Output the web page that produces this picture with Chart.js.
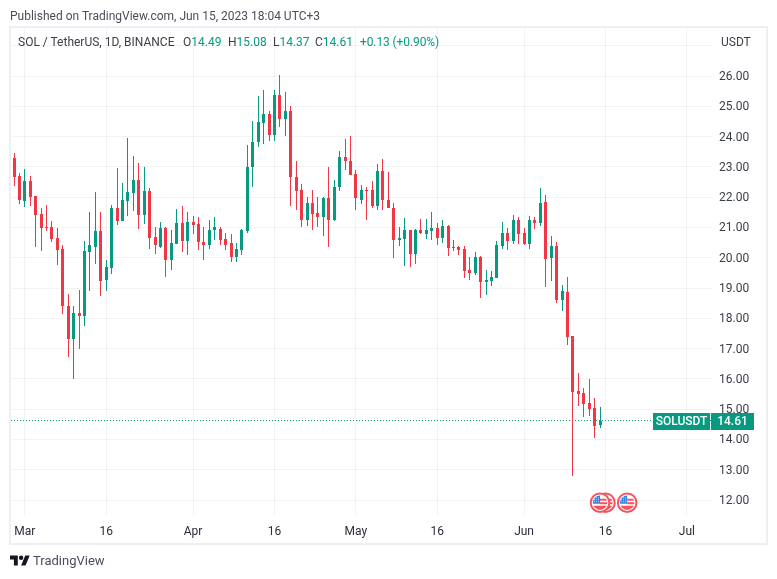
<!DOCTYPE html>
<html><head><meta charset="utf-8">
<script src="https://cdn.jsdelivr.net/npm/chart.js@4"></script>
<style>
html,body{margin:0;padding:0;background:#fff;width:777px;height:579px;overflow:hidden;font-family:Roboto,sans-serif}
#frame{position:absolute;left:9px;top:26px;width:755px;height:515px;border:2px solid #eeeff4}
canvas{position:absolute;left:0;top:0}
.t{position:absolute;white-space:nowrap;font-size:12px;line-height:14px}
.g{color:#089981}.d{color:#3a3e48}
</style></head><body>
<div id="frame"></div>
<canvas id="c" width="777" height="579"></canvas>
<div class="t" style="left:10px;top:9px;color:#4a4e59">Published on TradingView.com, Jun 15, 2023 18:04 UTC+3</div>
<div class="t d" style="left:18px;top:35px">SOL / TetherUS, 1D, BINANCE</div>
<div class="t" style="left:183px;top:35px"><span class="d">O</span><span class="g">14.49</span></div>
<div class="t" style="left:228px;top:35px"><span class="d">H</span><span class="g">15.08</span></div>
<div class="t" style="left:273px;top:35px"><span class="d">L</span><span class="g">14.37</span></div>
<div class="t" style="left:315px;top:35px"><span class="d">C</span><span class="g">14.61</span></div>
<div class="t g" style="left:360px;top:35px;letter-spacing:-0.1px">+0.13 (+0.90%)</div>
<div class="t d" style="left:721px;top:35px">USDT</div>
<svg style="position:absolute;left:10px;top:554px" width="20" height="13" viewBox="0 2 36 22"><path fill="#131722" d="M14 22H7V11H0V4h14v18zM28 22h-8l7.5-18h8L28 22z"/><circle fill="#131722" cx="20" cy="8" r="4"/></svg>
<div class="t" style="left:33px;top:554px;font-size:13px;color:#4a4e59">TradingView</div>
<script>
const opens=[23.28,22.69,21.86,22.52,22.03,21.43,21.00,21.00,20.64,20.28,18.42,17.33,18.19,18.06,20.18,20.37,20.87,19.25,19.65,21.63,21.20,21.86,22.13,22.56,21.40,22.19,20.67,20.37,20.97,19.91,20.44,21.13,20.54,21.17,21.10,20.53,20.43,20.90,20.96,20.63,20.47,20.04,20.27,20.87,22.98,23.81,24.44,24.73,24.04,25.36,24.57,24.83,22.68,22.22,21.23,21.82,21.49,21.36,21.96,21.26,22.32,23.34,23.21,22.75,21.92,22.25,22.25,21.72,22.85,21.92,21.65,20.59,20.63,20.92,20.13,20.92,20.79,20.89,20.99,20.66,21.05,20.33,20.36,20.30,19.60,19.51,20.03,19.21,19.24,19.34,20.40,20.82,20.56,21.25,20.82,20.46,21.25,21.15,21.85,20.00,20.40,18.61,18.88,17.42,15.61,15.54,15.21,15.05,14.49];
const highs=[23.45,22.79,22.92,22.69,22.03,21.63,21.73,21.20,20.97,20.41,18.79,18.39,18.92,20.54,21.50,22.16,21.50,19.91,21.73,22.95,22.46,23.94,23.35,23.12,22.99,22.29,21.00,21.17,21.00,20.90,21.60,21.70,21.50,21.37,21.33,21.00,21.26,21.36,21.00,20.80,20.77,20.47,20.96,23.71,24.50,25.33,25.53,24.83,25.53,26.02,25.46,25.00,23.21,22.42,22.02,22.25,22.02,21.99,22.98,22.55,23.51,23.91,24.01,22.91,22.39,22.32,22.52,23.08,23.25,22.82,21.81,21.02,21.32,20.92,20.96,21.29,21.29,21.52,21.15,21.25,21.09,20.59,20.40,20.40,20.03,20.20,20.07,19.60,19.57,20.56,21.19,20.99,21.42,21.35,20.99,21.38,21.35,22.31,22.08,20.73,20.53,19.11,19.37,17.42,16.20,15.71,16.00,15.38,15.08];
const lows=[22.36,21.76,21.66,21.70,20.37,20.21,20.87,20.51,19.75,18.13,16.71,16.01,16.97,17.73,18.89,19.78,18.72,18.89,19.45,21.07,21.20,21.37,21.53,20.94,21.10,20.28,20.11,20.31,19.35,19.61,20.44,20.18,20.08,20.77,20.24,19.94,20.30,20.60,20.43,20.24,19.87,19.87,20.10,20.83,22.32,23.64,23.74,23.84,23.84,24.30,24.01,21.72,21.59,21.03,21.06,20.93,21.03,20.73,20.37,21.20,22.19,22.91,22.72,21.56,21.76,21.26,21.63,21.59,21.59,21.65,20.00,20.40,19.74,19.70,19.80,20.79,20.63,20.59,20.43,20.49,20.07,20.23,20.10,19.34,19.27,19.44,18.68,18.78,19.08,19.34,20.30,20.26,20.46,20.46,20.43,20.30,20.96,21.05,19.04,19.24,18.52,18.25,17.13,12.80,15.11,14.75,14.78,14.06,14.37];
const closes=[22.66,21.90,22.52,21.99,21.40,20.97,20.97,20.61,20.24,18.39,17.30,18.19,18.06,20.21,20.41,20.87,19.22,19.68,21.63,21.20,21.90,22.16,22.56,21.40,22.19,20.64,20.41,20.97,19.91,20.47,21.13,20.54,21.17,21.07,20.51,20.43,20.93,21.00,20.60,20.43,20.04,20.30,20.90,23.01,23.81,24.47,24.73,24.04,25.36,24.57,24.83,22.65,22.19,21.23,21.82,21.46,21.36,21.96,21.26,22.35,23.34,23.18,22.72,21.96,22.25,22.22,21.72,22.85,21.89,21.65,20.59,20.66,20.92,20.13,20.92,20.82,20.92,20.99,20.66,21.05,20.33,20.36,20.26,19.57,19.51,20.03,19.21,19.27,19.37,20.43,20.82,20.56,21.25,20.79,20.46,21.25,21.15,21.81,19.97,20.40,18.62,18.91,17.39,15.58,15.51,15.18,15.01,14.45,14.61];
const tickDays=[2,17,33,48,63,78,94,109,124];
const tickLabels=['Mar','16','Apr','16','May','16','Jun','16','Jul'];
const flagDays=[108,109,113];
const lastLabel='SOLUSDT';
const GREEN='#089981',RED='#F23645';
const X_MIN=-0.553,X_MAX=128.45,Y_MIN=11.505,Y_MAX=27.585;
const days=opens.map((_,i)=>i);
const colors=opens.map((o,i)=>closes[i]>=o?GREEN:RED);
const last=closes[closes.length-1];

const snap={id:'snap',afterDatasetsUpdate(chart){
  chart.data.datasets.forEach((ds,di)=>{
    const els=chart.getDatasetMeta(di).data;
    if(ds.type==='line'){els.forEach(el=>{el.y=Math.floor(el.y)+0.5;});return;}
    els.forEach(el=>{
      el.x=Math.floor(el.x)+0.5;
      el.y=Math.round(el.y);el.base=Math.round(el.base);
      if(el.y===el.base)el.base=el.y+1;
    });
  });
}};
const overlay={id:'overlay',afterDraw(chart){
  const c=chart.ctx,xs=chart.scales.x,ys=chart.scales.y,a=chart.chartArea;
  // economic event flags
  const fy=ys.getPixelForValue(11.91);
  [...flagDays].reverse().forEach(d=>{
    const x=xs.getPixelForValue(d);
    c.save();
    c.beginPath();c.arc(x,fy,9.3,0,Math.PI*2);c.fillStyle='#fff';c.fill();
    c.lineWidth=2;c.strokeStyle='#f7525f';c.stroke();
    c.beginPath();c.arc(x,fy,7.2,0,Math.PI*2);c.clip();
    c.fillStyle='#fff';c.fillRect(x-8,fy-8,16,16);
    c.fillStyle='#f7525f';
    c.fillRect(x,fy-4,8,2);c.fillRect(x,fy-0.5,8,2);c.fillRect(x-8,fy+3,16,5);
    c.fillStyle='#2f7fe0';c.fillRect(x-8,fy-8,8,9);
    c.fillStyle='rgba(255,255,255,0.75)';
    for(let i=0;i<3;i++)for(let j=0;j<3;j++)c.fillRect(x-6+i*2,fy-5.5+j*2,1,1);
    c.restore();
  });
  // last price badges
  const py=Math.round(ys.getPixelForValue(last));
  c.save();
  c.fillStyle=GREEN;
  c.fillRect(a.right-58,py-8,57,17);
  c.fillRect(a.right,py-8,43,17);
  c.fillStyle='#fff';c.font='500 12px Roboto';c.textBaseline='middle';c.textAlign='center';
  c.fillText(lastLabel,a.right-29.5,py+1);
  c.fillText(last.toFixed(2),a.right+21.5,py+1);
  c.restore();
}};
new Chart(document.getElementById('c'),{
  type:'bar',
  plugins:[snap,overlay],
  data:{datasets:[
    {type:'line',order:3,data:[{x:X_MIN,y:last},{x:X_MAX,y:last}],borderColor:GREEN,borderWidth:1,borderDash:[1,2],pointRadius:0,tension:0},
    {order:2,grouped:false,barThickness:1,inflateAmount:0,borderWidth:0,backgroundColor:colors,
     data:days.map((d,i)=>({x:d,y:[lows[i],highs[i]]}))},
    {order:1,grouped:false,barThickness:3,inflateAmount:0,borderWidth:0,backgroundColor:colors,
     data:days.map((d,i)=>({x:d,y:[opens[i],closes[i]]}))}
  ]},
  options:{
    responsive:false,animation:false,events:[],
    layout:{padding:{left:11,top:28,right:10,bottom:36}},
    plugins:{legend:{display:false},tooltip:{enabled:false},title:{display:false}},
    scales:{
      x:{type:'linear',offset:false,min:X_MIN,max:X_MAX,
        grid:{offset:false,color:'rgba(42,46,57,0.06)',drawTicks:false},border:{display:false},
        afterBuildTicks(s){s.ticks=tickDays.map(v=>({value:v}));},
        afterFit(s){s.height=28;},
        ticks:{autoSkip:false,maxRotation:0,padding:10,color:'#2a2e39',font:{family:'Roboto',size:12},
          callback:v=>tickLabels[tickDays.indexOf(v)]}},
      y:{type:'linear',position:'right',min:Y_MIN,max:Y_MAX,
        grid:{color:'rgba(42,46,57,0.06)',drawTicks:false},border:{display:false},
        afterFit(s){s.width=56;},
        ticks:{stepSize:1,includeBounds:false,padding:8,labelOffset:1,color:'#3a3e48',font:{family:'Roboto',size:12},
          callback:v=>v>26?'':v.toFixed(2)}}
    }
  }
});
</script></body></html>
